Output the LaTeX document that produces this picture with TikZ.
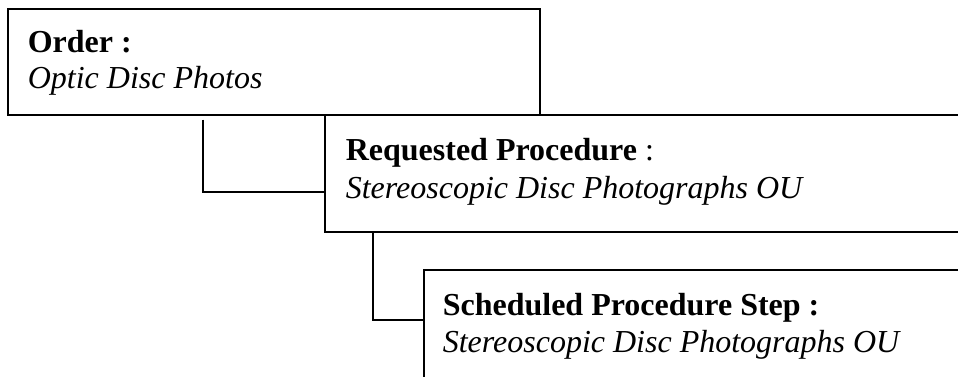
\documentclass[tikz,border=0pt]{standalone}
\usepackage{fontspec}
\setmainfont{Liberation Serif}
\usetikzlibrary{positioning}
\newcommand{\linew}{1.6pt}
\newcommand{\boxfont}{\fontsize{32}{36}\selectfont}

\begin{document}
\begin{tikzpicture}[x=1pt, y=-1pt, line width=\linew,
    level/.style={draw, anchor=north west, inner sep=0pt},
    label/.style={anchor=base west, inner sep=0pt, font=\boxfont}]
        \useasboundingbox (0, 0) rectangle (958, 376);
        \clip (0, 0) rectangle (958, 376);

        % boxes, the lower two run off the page
        \node[level, minimum width=532pt, minimum height=106pt] (order) at (7, 8) {};
        \node[level, minimum width=700pt, minimum height=117pt] (request) at (324, 114) {};
        \node[level, minimum width=600pt, minimum height=200pt] (step) at (423, 269) {};

        \node[label] (ordertitle) at (27, 52) {\textbf{Order :}};
        \node[label] (ordername) at (27, 88) {\textit{Optic Disc Photos}};
        \node[label] (requesttitle) at (345, 160) {\textbf{Requested Procedure} :};
        \node[label] (requestname) at (345, 198) {\textit{Stereoscopic Disc Photographs OU}};
        \node[label] (steptitle) at (442, 315) {\textbf{Scheduled Procedure Step :}};
        \node[label] (stepname) at (442, 352) {\textit{Stereoscopic Disc Photographs OU}};

        % connectors
        \coordinate (bend1) at (203, 192);
        \coordinate (bend2) at (373, 320);
        \draw ([yshift=-4pt]bend1 |- order.south) -- (bend1) -- (bend1 -| request.west);
        \draw (bend2 |- request.south) -- (bend2) -- (bend2 -| step.west);
    \end{tikzpicture}
\end{document}
